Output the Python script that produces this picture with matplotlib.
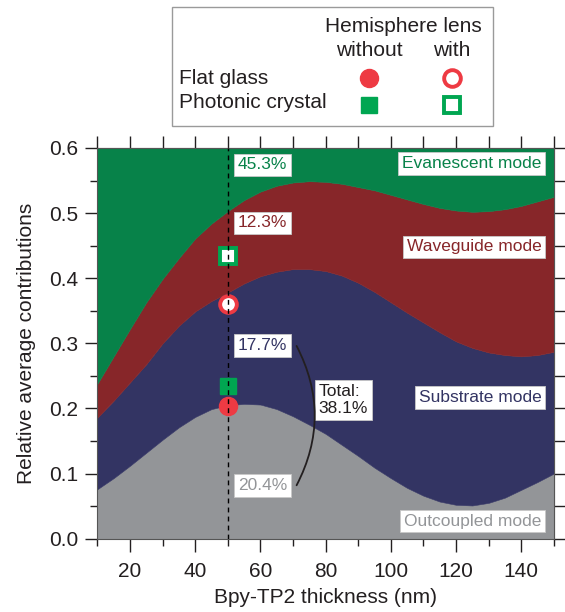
import matplotlib
matplotlib.use('Agg')
import matplotlib.pyplot as plt
from matplotlib.patches import Rectangle, FancyArrowPatch
from matplotlib.ticker import MultipleLocator
import numpy as np

plt.rcParams['font.family'] = ['Liberation Sans', 'DejaVu Sans']

# ---------------- data ----------------
thickness = [10, 15, 20, 25, 30, 35, 40, 45, 50, 55, 60, 65, 70, 75, 80,
             85, 90, 95, 100, 105, 110, 115, 120, 125, 130, 135, 140, 145, 150]
outcoupled = [0.076, 0.093, 0.112, 0.132, 0.152, 0.171, 0.187, 0.199, 0.205,
              0.207, 0.206, 0.199, 0.188, 0.175, 0.161, 0.144, 0.127, 0.109,
              0.093, 0.078, 0.066, 0.057, 0.052, 0.051, 0.055, 0.063, 0.075,
              0.087, 0.100]
substrate = [0.110, 0.119, 0.128, 0.136, 0.148, 0.156, 0.162, 0.166, 0.173,
             0.185, 0.197, 0.211, 0.226, 0.239, 0.250, 0.260, 0.266, 0.270,
             0.270, 0.269, 0.266, 0.260, 0.251, 0.242, 0.231, 0.219, 0.205,
             0.195, 0.187]
waveguide = [0.052, 0.068, 0.082, 0.095, 0.099, 0.104, 0.112, 0.119, 0.125,
             0.128, 0.130, 0.132, 0.133, 0.135, 0.137, 0.141, 0.147, 0.156,
             0.165, 0.174, 0.182, 0.191, 0.201, 0.209, 0.217, 0.224, 0.231,
             0.236, 0.238]
y_top = 0.6

marker_x = 50
flat_without = 0.204
pc_without = 0.234
flat_with = 0.360
pc_with = 0.434

pct_texts = ['45.3%', '12.3%', '17.7%', '20.4%']
pct_y = [0.574, 0.485, 0.297, 0.082]
mode_texts = ['Evanescent mode', 'Waveguide mode', 'Substrate mode', 'Outcoupled mode']
mode_y = [0.576, 0.448, 0.217, 0.027]
total_text = 'Total:\n38.1%'

x_ticks = [20, 40, 60, 80, 100, 120, 140]
y_ticks = [0.0, 0.1, 0.2, 0.3, 0.4, 0.5, 0.6]

# ---------------- styles ----------------
c_green = '#078249'
c_red = '#872629'
c_navy = '#333463'
c_gray = '#939598'
c_mred = '#EE3A43'
c_mgreen = '#00A651'
c_text = '#231F20'

fig = plt.figure(figsize=(5.65, 6.12), dpi=100)
ax = fig.add_axes([0.1724, 0.1198, 0.8078, 0.6384])

x = np.array(thickness)
b0 = np.zeros(len(x))
b1 = b0 + np.array(outcoupled)
b2 = b1 + np.array(substrate)
b3 = b2 + np.array(waveguide)
for lo, hi, c in [(b0, b1, c_gray), (b1, b2, c_navy), (b2, b3, c_red)]:
    ax.fill_between(x, lo, hi, facecolor=c, edgecolor=c, lw=0.4, zorder=1)
ax.fill_between(x, b3, y_top, facecolor=c_green, edgecolor=c_green, lw=0.4, zorder=1)

ax.set_xlim(10, 150)
ax.set_ylim(0, 0.6)

# markers
ax.plot([marker_x], [flat_without], 'o', ms=13, mfc=c_mred, mec=c_mred, zorder=3, clip_on=False)
ax.plot([marker_x], [pc_without], 's', ms=11.5, mfc=c_mgreen, mec=c_mgreen, zorder=3)
ax.plot([marker_x], [flat_with], 'o', ms=12, mfc='white', mec=c_mred, mew=2.8, zorder=3)
ax.plot([marker_x], [pc_with], 's', ms=11, mfc='white', mec=c_mgreen, mew=2.8, zorder=3)

# dashed line
ax.axvline(marker_x, color='black', lw=1.0, ls=(0, (3.5, 3)), zorder=4)

fs_ann = 12.5
box = lambda: dict(boxstyle='square,pad=0.22', fc='white', ec='#c8c8c8', lw=0.6)
pct_colors = [c_green, c_red, c_navy, c_gray]
for t, yy, c in zip(pct_texts, pct_y, pct_colors):
    ax.text(60.6, yy, t, color=c, fontsize=fs_ann, ha='center', va='center',
            bbox=box(), zorder=5)
for t, yy, c in zip(mode_texts, mode_y, pct_colors):
    ax.text(146.2, yy, t, color=c, fontsize=fs_ann, ha='right', va='center',
            bbox=box(), zorder=5)
ax.text(77.9, 0.213, total_text, color=c_text, fontsize=fs_ann, ha='left', va='center',
        linespacing=1.15, bbox=box(), zorder=5)

arc = FancyArrowPatch((71.1, 0.296), (71.1, 0.082), arrowstyle='-',
                      connectionstyle='arc3,rad=-0.26', color=c_text, lw=1.3,
                      zorder=5, shrinkA=0, shrinkB=0)
ax.add_patch(arc)

# ticks
ax.set_xticks(x_ticks)
ax.xaxis.set_minor_locator(MultipleLocator(10))
ax.set_yticks(y_ticks)
ax.yaxis.set_minor_locator(MultipleLocator(0.05))
ax.set_yticklabels([f'{v:.1f}' for v in y_ticks])
ax.tick_params(which='major', direction='out', length=9, width=1, labelsize=15,
               colors=c_text, pad=5)
ax.tick_params(which='minor', direction='out', length=5, width=1, colors=c_text)
ax.tick_params(axis='x', which='major', pad=8)

sx = ax.secondary_xaxis('top')
sx.set_xticks(list(range(10, 151, 10)))
sx.tick_params(direction='out', length=9, width=1, labeltop=False, colors=c_text)
sy = ax.secondary_yaxis('right')
sy.set_yticks([i * 0.05 for i in range(13)])
sy.tick_params(direction='out', length=9, width=1, labelright=False, colors=c_text)
for a in (ax, sx, sy):
    for s in a.spines.values():
        s.set_linewidth(0.8)
        s.set_color('#555555')

ax.set_xlabel('Bpy-TP2 thickness (nm)', fontsize=15, color=c_text, labelpad=5)
ax.set_ylabel('Relative average contributions', fontsize=15, color=c_text, labelpad=9)

# ---------------- legend box (figure pixel coordinates) ----------------
lax = fig.add_axes([0, 0, 1, 1], zorder=10)
lax.set_xlim(0, 565)
lax.set_ylim(612, 0)
lax.axis('off')
lax.add_patch(Rectangle((172, 7), 321, 119, fc='white', ec='#9a9a9a', lw=1.0))
fs_leg = 15
lax.text(403, 26, 'Hemisphere lens', fontsize=fs_leg, ha='center', va='center', color=c_text)
lax.text(369, 51, 'without', fontsize=fs_leg, ha='center', va='center', color=c_text)
lax.text(452, 51, 'with', fontsize=fs_leg, ha='center', va='center', color=c_text)
lax.text(179, 78, 'Flat glass', fontsize=fs_leg, ha='left', va='center', color=c_text)
lax.text(179, 103, 'Photonic crystal', fontsize=fs_leg, ha='left', va='center', color=c_text)
lax.plot([369], [78], 'o', ms=13, mfc=c_mred, mec=c_mred)
lax.plot([452], [78], 'o', ms=12, mfc='white', mec=c_mred, mew=2.8)
lax.plot([369], [105], 's', ms=11.5, mfc=c_mgreen, mec=c_mgreen)
lax.plot([452], [105], 's', ms=11, mfc='white', mec=c_mgreen, mew=2.8)

fig.savefig('out.png', dpi=100)
